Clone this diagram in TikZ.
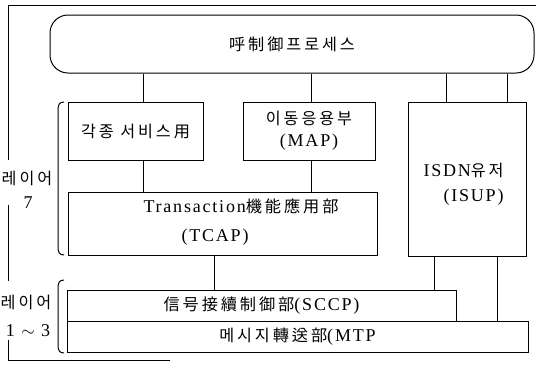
\documentclass[tikz,border=0pt]{standalone}
\usepackage{fontspec}
\setmainfont[LetterSpace=10]{Liberation Serif}
\newfontfamily\kr[LetterSpace=18,Scale=0.9]{Noto Sans CJK KR}
\newcommand\K[1]{{\kr #1}}
\begin{document}
\begin{tikzpicture}[x=1pt,y=-1pt,line width=1pt,
  box/.style={draw,rectangle,inner sep=0pt},
  lbl/.style={font=\fontsize{18}{21}\selectfont,inner sep=0pt}]
\useasboundingbox (0,0) rectangle (536,365);
% outer frame
\draw (8,160) -- (8,5) -- (536,5);
\draw (8,205) -- (8,281);
\draw (8,340) -- (8,360) -- (170,360);
% nodes
\node[box,rounded corners=18pt,minimum width=484pt,minimum height=58pt,lbl] (top) at (292,44) {\K{呼制御프로세스}};
\node[box,minimum width=135pt,minimum height=58pt,lbl] (svc) at (135.5,131) {\K{각종 서비스用}};
\node[box,minimum width=132pt,minimum height=58pt,lbl,align=center] (map) at (309,131) {\K{이동응용부}\\[1pt](MAP)};
\node[box,minimum width=118pt,minimum height=154pt] (isup) at (467,179) {};
\node[lbl,align=left,anchor=west] (isupT) at (423,184.5) {ISDN\K{유저}\\[4pt]\hspace*{20pt}(ISUP)};
\node[box,minimum width=309pt,minimum height=63pt] (tcap) at (222.5,223.5) {};
\node[lbl,align=left,anchor=west] (tcapT) at (143,222.5) {Transaction\K{機能應用部}\\[8pt]\hspace*{38pt}(TCAP)};
\node[box,minimum width=389pt,minimum height=31pt,lbl] (sccp) at (261.5,305.5) {\K{信号接續制御部}(SCCP)};
\node[box,minimum width=461pt,minimum height=31pt,lbl] (mtp) at (297.5,336.5) {\K{메시지轉送部}(MTP};
% layer labels
\node[lbl] (l7a) at (27,178) {\K{레이어}};
\node[lbl] (l7b) at (28,203) {7};
\node[lbl] (l1a) at (26,302) {\K{레이어}};
\node[lbl] (l1b) at (28,331) {1 $\sim$ 3};
% brackets
\draw (64,102) .. controls (59,102) and (58,105) .. (58,111) -- (58,246) .. controls (58,252) and (59,255) .. (64,255);
\draw (64,280) .. controls (59,280) and (58,283) .. (58,289) -- (58,344) .. controls (58,350) and (59,353) .. (64,353);
% connector x positions
\coordinate (c1) at (143,0);
\coordinate (c2) at (311,0);
\coordinate (c3) at (446,0);
\coordinate (c4) at (507,0);
\coordinate (c5) at (214,0);
\coordinate (c6) at (434,0);
\coordinate (c7) at (497,0);
\draw (top.south -| c1) -- (svc.north -| c1);
\draw (svc.south -| c1) -- (tcap.north -| c1);
\draw (top.south -| c2) -- (map.north -| c2);
\draw (map.south -| c2) -- (tcap.north -| c2);
\draw (top.south -| c3) -- (isup.north -| c3);
\draw (top.south -| c4) -- (isup.north -| c4);
\draw (tcap.south -| c5) -- (sccp.north -| c5);
\draw (isup.south -| c6) -- (sccp.north -| c6);
\draw (isup.south -| c7) -- (mtp.north -| c7);
\end{tikzpicture}
\end{document}
